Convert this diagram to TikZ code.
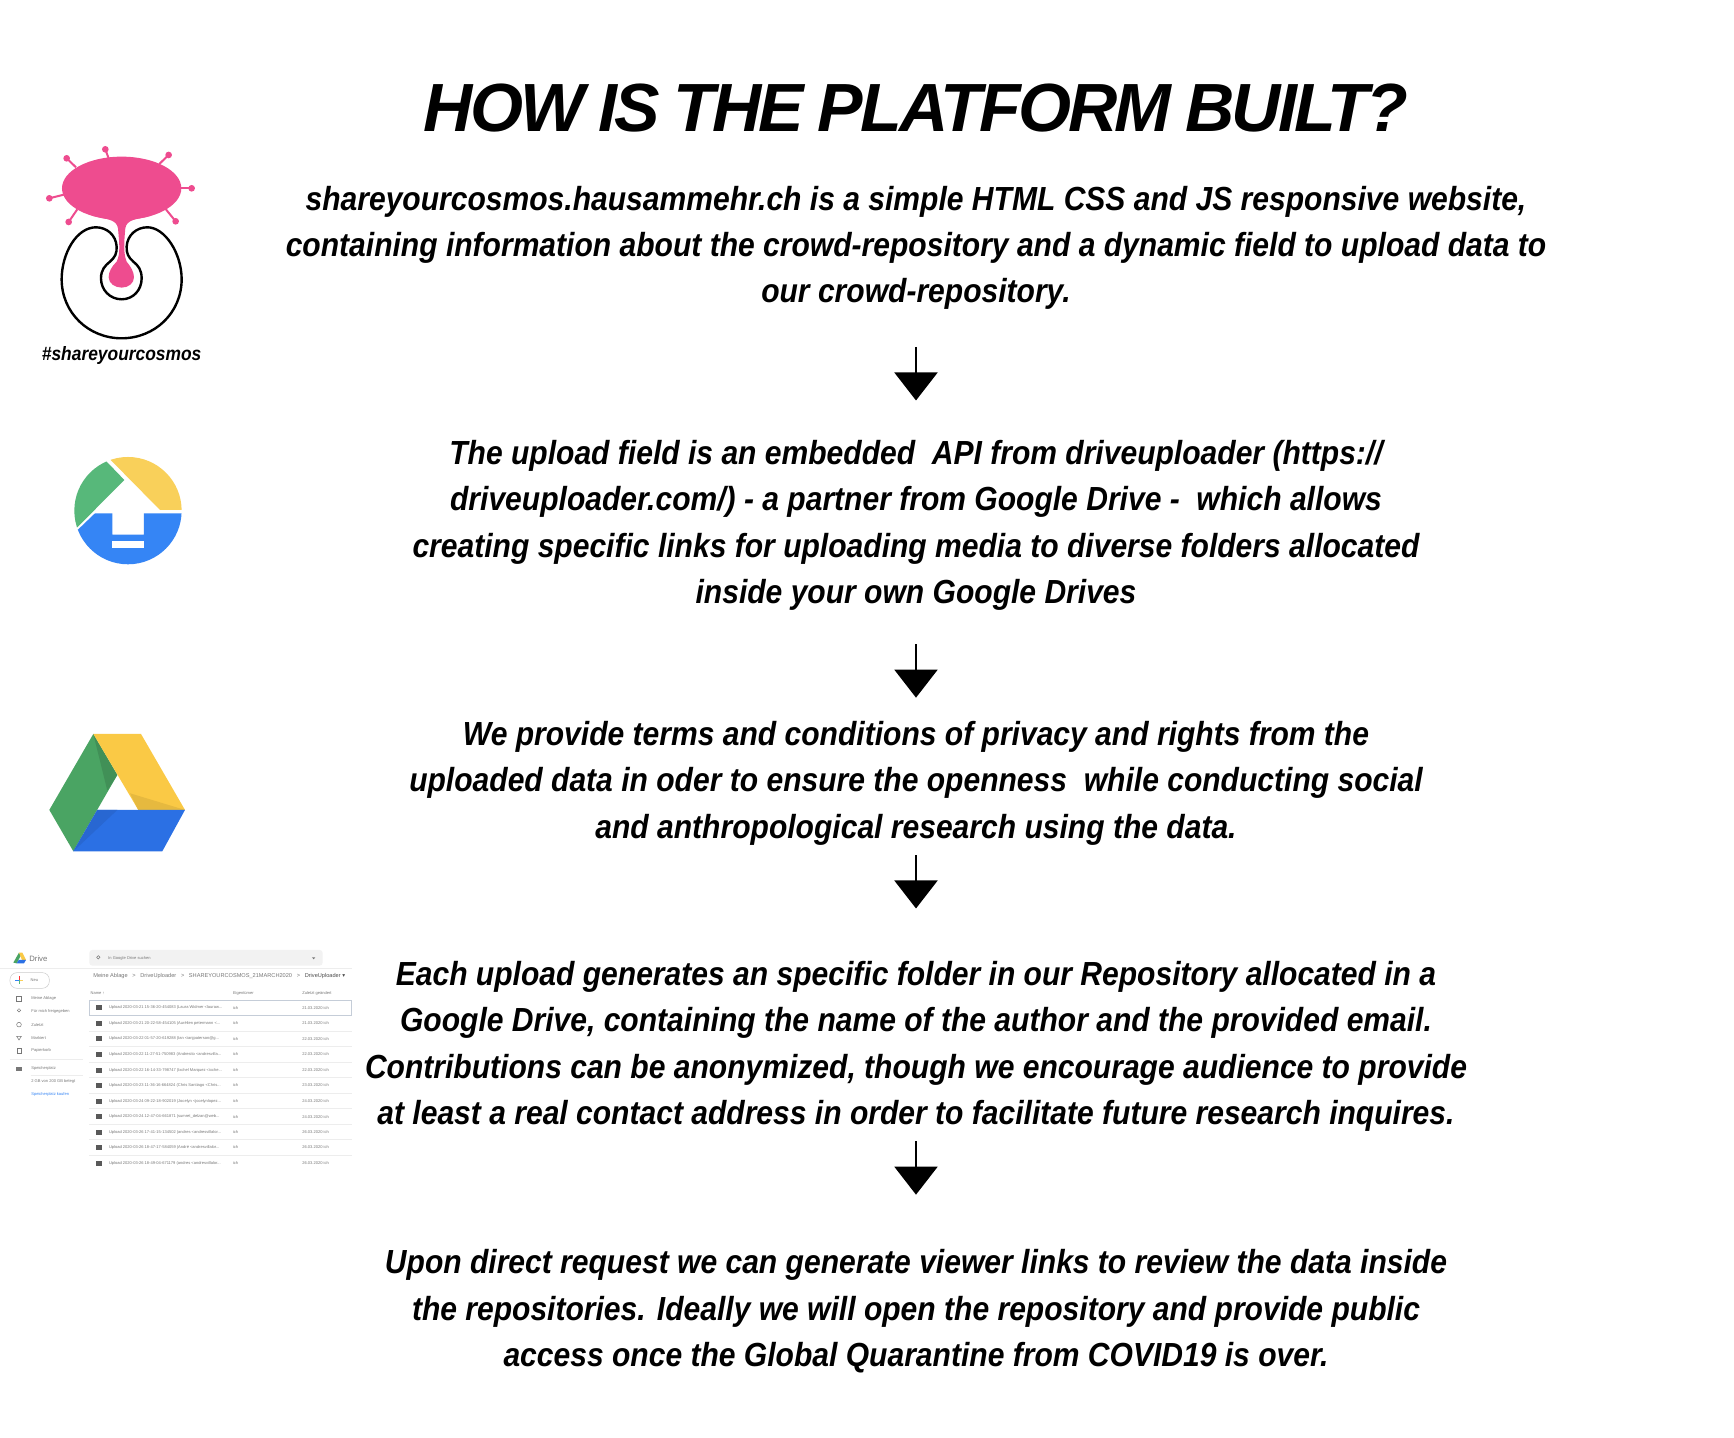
\documentclass[tikz,border=0pt]{standalone}
\usepackage{fontspec}
\setmainfont{Liberation Sans}
\newfontfamily\titlefont[LetterSpace=-4.2, WordSpace=0.85]{Liberation Sans}
\newfontfamily\bodyfont[FakeStretch=0.9]{Liberation Sans}
\newfontfamily\arrowfont{DejaVu Sans}
\usetikzlibrary{arrows.meta}
\definecolor{cosmospink}{HTML}{EE4C8F}
\definecolor{upgreen}{HTML}{57B87A}
\definecolor{upyellow}{HTML}{F9D05A}
\definecolor{upblue}{HTML}{3585F5}
\definecolor{drivegreen}{HTML}{4AA463}
\definecolor{driveyellow}{HTML}{FAC945}
\definecolor{driveblue}{HTML}{2B70E4}
\definecolor{rowgray}{HTML}{777777}
\tikzstyle{titletext} = [align=center, inner sep=0pt, font=\fontsize{19.4}{26}\selectfont\titlefont\bfseries\itshape]
\tikzstyle{bodytext} = [align=center, inner sep=0pt, font=\fontsize{9.5}{13.2}\selectfont\bodyfont\bfseries\itshape]
\tikzstyle{flowarrow} = [-{Triangle[width=0.43cm, length=0.28cm]}, line width=0.02cm, black]
\tikzstyle{shot} = [inner sep=0pt, anchor=west, text=rowgray, font=\fontsize{1.15}{1.5}\selectfont]
\tikzstyle{sepline} = [line width=0.004cm, black!7]
\tikzstyle{spike} = [cosmospink, line width=0.02cm]
\newcommand{\driverow}[4]{
	\fill [black!65] (288,#2-7) rectangle (306,#2+8);
	\node (#1name) [shot] at (325,#2) {#3};
	\node (#1owner) [shot] at (697,#2) {ich};
	\node (#1date) [shot] at (905,#2) {#4 ich};
}
\begin{document}
\begin{tikzpicture}
	\useasboundingbox (0,0) rectangle (17.34,14.38);
	\fill [white] (0,0) rectangle (17.34,14.38);

	\node (title) [titletext] at (9.16,13.30) {HOW IS THE PLATFORM BUILT?};

	\node (intro) [bodytext, minimum height=1.392cm] at (9.16,11.902) {shareyourcosmos.hausammehr.ch is a simple HTML CSS and JS responsive website,\\containing information about the crowd-repository and a dynamic field to upload data to\\our crowd-repository.};
	\node (upload) [bodytext, minimum height=1.856cm] at (9.16,9.127) {The upload field is an embedded~ API from driveuploader (https://\\driveuploader.com/) - a partner from Google Drive -~ which allows\\creating specific links for uploading media to diverse folders allocated\\inside your own Google Drives};
	\node (terms) [bodytext, minimum height=1.392cm] at (9.16,6.547) {We provide terms and conditions of privacy and rights from the\\uploaded data in oder to ensure the openness~ while conducting social\\and anthropological research using the data.};
	\node (folder) [bodytext, minimum height=1.856cm] at (9.16,3.917) {Each upload generates an specific folder in our Repository allocated in a\\Google Drive, containing the name of the author and the provided email.\\Contributions can be anonymized, though we encourage audience to provide\\at least a real contact address in order to facilitate future research inquires.};
	\node (viewer) [bodytext, minimum height=1.392cm] at (9.16,1.267) {Upon direct request we can generate viewer links to review the data inside\\the repositories. Ideally we will open the repository and provide public\\access once the Global Quarantine from COVID19 is over.};

	\draw [flowarrow, shorten <=0.287cm, shorten >=0.313cm] (intro.south) -- (upload.north);
	\draw [flowarrow, shorten <=0.257cm, shorten >=0.153cm] (upload.south) -- (terms.north);
	\draw [flowarrow, shorten <=0.017cm, shorten >=0.443cm] (terms.south) -- (folder.north);
	\draw [flowarrow, shorten <=0.017cm, shorten >=0.463cm] (folder.south) -- (viewer.north);

	% cosmos logo
	\begin{scope}[shift={(0,13.18)}, x=1cm/300, y=-1cm/300]
		\fill [cosmospink] (365,205) ellipse [x radius=179, y radius=95];
		\draw [spike] (200,115) -- (228,142);
		\draw [spike] (316,88) -- (326,115);
		\draw [spike] (506,105) -- (478,132);
		\draw [spike] (575,205) -- (540,205);
		\draw [spike] (527,304) -- (496,266);
		\draw [spike] (206,306) -- (232,268);
		\draw [spike] (148,235) -- (192,224);
		\fill [cosmospink] (200,115) circle [radius=10];
		\fill [cosmospink] (316,88) circle [radius=10];
		\fill [cosmospink] (506,105) circle [radius=10];
		\fill [cosmospink] (575,205) circle [radius=10];
		\fill [cosmospink] (527,304) circle [radius=10];
		\fill [cosmospink] (206,306) circle [radius=10];
		\fill [cosmospink] (148,235) circle [radius=10];
		\fill [cosmospink] (280,288) .. controls (320,298) and (350,298) .. (354,325)
			.. controls (358,370) and (362,400) .. (350,425)
			.. controls (335,440) and (326,455) .. (326,472)
			.. controls (326,490) and (345,503) .. (365,503)
			.. controls (385,503) and (402,490) .. (402,472)
			.. controls (402,455) and (392,440) .. (380,425)
			.. controls (370,400) and (372,370) .. (376,325)
			.. controls (380,298) and (410,298) .. (450,288) -- cycle;
		\draw [black, line width=0.024cm] (365,538) .. controls (330,538) and (303,510) .. (303,475)
			.. controls (303,450) and (315,437) .. (330,425)
			.. controls (345,412) and (351,400) .. (350,380)
			.. controls (348,345) and (320,322) .. (288,322)
			.. controls (230,322) and (185,400) .. (185,478)
			.. controls (185,578) and (265,655) .. (365,655)
			.. controls (465,655) and (545,578) .. (545,478)
			.. controls (545,400) and (495,322) .. (442,322)
			.. controls (410,322) and (382,345) .. (380,380)
			.. controls (379,400) and (385,412) .. (400,425)
			.. controls (415,437) and (425,450) .. (425,475)
			.. controls (425,510) and (400,538) .. (365,538) -- cycle;
		\node (hashtag) [inner sep=0pt, font=\fontsize{5.5}{6}\selectfont\bodyfont\bfseries\itshape] at (365,707) {\#shareyourcosmos};
	\end{scope}

	% uploader logo and drive logo
	\begin{scope}[shift={(0.30,10.08)}, x=1cm/300, y=-1cm/300]
		\begin{scope}
			\clip (294,242) circle [radius=161];
			\fill [upyellow] (240,88) -- (390,240) -- (470,240) -- (470,60) -- (240,60) -- cycle;
			\fill [upgreen] (230,95) -- (283,150) -- (142,292) -- (100,292) -- (100,95) -- cycle;
			\fill [upblue] (145,298) -- (195,250) -- (247,250) -- (247,314) -- (342,314) -- (342,250) -- (470,250) -- (470,420) -- (100,420) -- (100,298) -- cycle;
			\fill [white] (247,333) rectangle (342,354);
		\end{scope}

		\fill [drivegreen] (190,912) -- (262,1035) -- (130,1264) -- (58,1140) -- cycle;
		\fill [drivegreen!88!black] (190,912) -- (262,1035) -- (232,1082) -- cycle;
		\fill [driveyellow] (190,912) -- (333,912) -- (465,1140) -- (325,1140) -- cycle;
		\fill [driveyellow!92!black] (300,1090) -- (465,1140) -- (325,1140) -- cycle;
		\fill [driveblue] (202,1140) -- (465,1140) -- (397,1264) -- (130,1264) -- cycle;
		\fill [driveblue!92!black] (202,1140) -- (262,1140) -- (130,1264) -- cycle;
	\end{scope}

	% drive screenshot
	\begin{scope}[shift={(0,4.98)}, x=1cm/300, y=-1cm/300]
		\fill [drivegreen] (57,38) -- (40,68) -- (50,70) -- (62,48) -- cycle;
		\fill [driveyellow] (57,38) -- (67,38) -- (78,60) -- (66,60) -- cycle;
		\fill [driveblue] (50,70) -- (72,70) -- (78,60) -- (56,60) -- cycle;
		\node (brand) [shot, font=\fontsize{2.2}{3}\selectfont] at (86,55) {Drive};
		\fill [black!5, rounded corners=0.03cm] (268,30) rectangle (968,77);
		\draw [rowgray, line width=0.005cm] (295,52) circle [radius=5];
		\node (search) [shot] at (323,55) {In Google Drive suchen};
		\fill [rowgray] (936,52) -- (946,52) -- (941,58) -- cycle;
		\draw [sepline] (0,85) -- (1055,85);

		\draw [black!20, fill=white, rounded corners=0.07cm, line width=0.005cm] (30,98) rectangle (148,145);
		\draw [upblue, line width=0.008cm] (46,121) -- (58,121);
		\draw [upyellow, line width=0.008cm] (58,121) -- (70,121);
		\draw [red!80, line width=0.008cm] (58,109) -- (58,121);
		\draw [upgreen, line width=0.008cm] (58,121) -- (58,133);
		\node (neu) [shot] at (90,120) {Neu};

		\draw [rowgray, line width=0.005cm] (50,169) rectangle (65,184);
		\draw [rowgray, line width=0.005cm] (57,211) circle [radius=5];
		\draw [rowgray, line width=0.005cm] (57,254) circle [radius=7];
		\draw [rowgray, line width=0.005cm] (50,289) -- (64,289) -- (57,300) -- cycle;
		\draw [rowgray, line width=0.005cm] (51,324) rectangle (63,340);
		\fill [rowgray] (48,380) rectangle (66,393);
		\node (ablage) [shot] at (92,176) {Meine Ablage};
		\node (shared) [shot] at (92,215) {Für mich freigegeben};
		\node (recent) [shot] at (92,254) {Zuletzt};
		\node (marked) [shot] at (92,293) {Markiert};
		\node (trash) [shot] at (92,331) {Papierkorb};
		\draw [sepline] (30,358) -- (250,358);
		\node (storage) [shot] at (92,386) {Speicherplatz};
		\draw [sepline] (92,407) -- (250,407);
		\node (used) [shot] at (92,423) {2 GB von 200 GB belegt};
		\node (buy) [shot, text=upblue] at (92,463) {Speicherplatz kaufen};

		\node (crumb) [shot, font=\fontsize{1.6}{2}\selectfont] at (278,108) {Meine Ablage~~ >~~ DriveUploader~~ >~~ SHAREYOURCOSMOS\_21MARCH2020~~ >~~ \textcolor{black!70}{DriveUploader {\arrowfont▾}}};
		\node (colname) [shot] at (270,160) {Name ↑};
		\node (colowner) [shot] at (697,160) {Eigentümer};
		\node (coldate) [shot] at (905,160) {Zuletzt geändert};

		\draw [upblue!40!black!25, line width=0.006cm] (268,181) rectangle (1055,227);
		\draw [sepline] (268,274) -- (1055,274);
		\draw [sepline] (268,320) -- (1055,320);
		\draw [sepline] (268,367) -- (1055,367);
		\draw [sepline] (268,413) -- (1055,413);
		\draw [sepline] (268,460) -- (1055,460);
		\draw [sepline] (268,506) -- (1055,506);
		\draw [sepline] (268,553) -- (1055,553);
		\draw [sepline] (268,599) -- (1055,599);
		\draw [sepline] (268,646) -- (1055,646);

		\driverow{a}{203}{Upload 2020-03-21 15-36-20-454083 (Laura Widmer <lauraw...}{21.03.2020}
		\driverow{b}{250}{Upload 2020-03-21 20-22-58-454105 (Aurélien petermann <...}{21.03.2020}
		\driverow{c}{296}{Upload 2020-03-22 01-57-20-619288 (Ian <ianjpaterson@g...}{22.03.2020}
		\driverow{d}{343}{Upload 2020-03-22 11-27-51-750983 (Andresito <andresvilla...}{22.03.2020}
		\driverow{e}{390}{Upload 2020-03-22 16-14-33-798747 (Ixchel Marquez <ixche...}{22.03.2020}
		\driverow{f}{436}{Upload 2020-03-23 11-36-16-664824 (Chris Santiago <Chris...}{23.03.2020}
		\driverow{g}{483}{Upload 2020-03-24 09-22-18-902019 (Jocelyn <jocelynlopez...}{24.03.2020}
		\driverow{h}{530}{Upload 2020-03-24 12-47-04-661871 (sumret\_delzan@web...}{24.03.2020}
		\driverow{i}{576}{Upload 2020-03-26 17-41-15-134502 (andres <andresvillalor...}{26.03.2020}
		\driverow{j}{622}{Upload 2020-03-26 18-47-17-584059 (André <andresvillalor...}{26.03.2020}
		\driverow{k}{669}{Upload 2020-03-26 18-49-04-671179 (andres <andresvillalor...}{26.03.2020}
	\end{scope}
\end{tikzpicture}
\end{document}
